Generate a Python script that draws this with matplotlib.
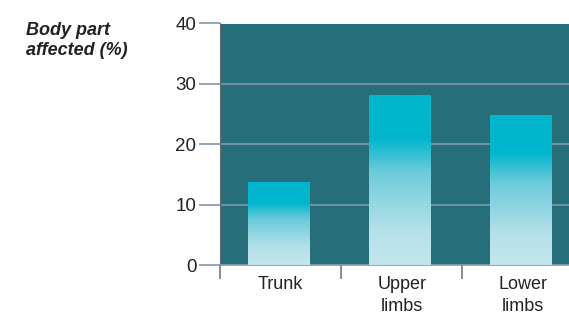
import numpy as np
import matplotlib.pyplot as plt
from matplotlib.colors import LinearSegmentedColormap

categories = ["Trunk", "Upper\nlimbs", "Lower\nlimbs"]
values = [13.7, 28.1, 24.8]
yticks = [0, 10, 20, 30, 40]

plt.rcParams['font.family'] = ['Liberation Sans', 'DejaVu Sans']

fig = plt.figure(figsize=(5.69, 3.13), dpi=100)
ax = fig.add_axes([220 / 569, 1 - 265 / 313, 349 / 569, (265 - 23.5) / 313])
ax.set_facecolor("#266f7a")

# gradient: light at bottom, cyan at top
cmap = LinearSegmentedColormap.from_list(
    "barfade", [(0, "#c3e6ed"), (0.2, "#b6e1ea"), (0.55, "#6ccbdb"), (0.75, "#00b5cc"), (1, "#00b5cc")])
grad = np.linspace(0, 1, 256).reshape(-1, 1)

x = np.arange(len(categories)) + 0.485
bars = ax.bar(x, values, width=0.51, color="none", edgecolor="none", zorder=3)
for b in bars:
    x0, w, h = b.get_x(), b.get_width(), b.get_height()
    im = ax.imshow(grad, cmap=cmap, origin="lower", aspect="auto",
                   extent=[x0, x0 + w, 0, h], zorder=3)
    im.set_clip_path(b)

ax.set_xlim(0, 2.88)
ax.set_ylim(0, 40)
ax.set_yticks(yticks)
ax.set_xticks([0, 1, 2])
ax.set_xticklabels([])
ax.set_xticks(np.arange(len(categories)) + 0.5, minor=True)
ax.set_xticklabels(categories, minor=True, linespacing=1.35)

ax.grid(axis="y", color="#7f97ad", linewidth=1.2, zorder=1)
ax.set_axisbelow(True)

for s in ["top", "right"]:
    ax.spines[s].set_visible(False)
ax.spines["left"].set_color("#6a6a6a")
ax.spines["bottom"].set_color("#7f97ad")
ax.spines["bottom"].set_linewidth(1.2)

ax.tick_params(axis="y", which="major", length=15, width=1.2, color="#7f97ad",
               labelsize=13.5, labelcolor="#222222", pad=2)
ax.tick_params(axis="x", which="major", length=10, width=1.2, color="#7a7a7a")
ax.tick_params(axis="x", which="minor", length=0, labelsize=13, labelcolor="#222222", pad=8)

fig.text(26 / 569, 1 - 22 / 313, "Body part\naffected (%)", fontsize=13,
         fontweight="bold", fontstyle="italic", color="#222222", va="top", ha="left",
         linespacing=1.2)

fig.savefig("out.png", dpi=100)
